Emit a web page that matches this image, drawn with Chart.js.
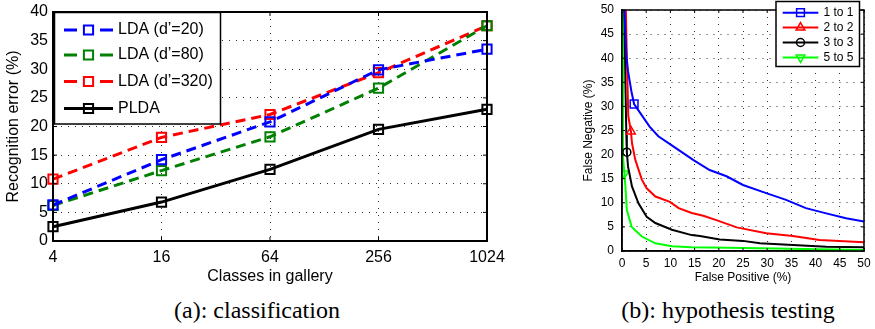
<!DOCTYPE html>
<html>
<head>
<meta charset="utf-8">
<script src="https://cdn.jsdelivr.net/npm/chart.js@4.4.0/dist/chart.umd.min.js"></script>
<style>
body { margin:0; width:875px; height:329px; background:#fff; position:relative; overflow:hidden; }
.box { position:absolute; top:0; }
.cap { position:absolute; top:298px; font-family:"Liberation Serif", serif; font-size:24px; line-height:24px; white-space:nowrap; transform:translateX(-50%); }
</style>
</head>
<body>
<div class="box" style="left:0"><canvas id="cls" width="520" height="290"></canvas></div>
<div class="box" style="left:560px"><canvas id="hyp" width="315" height="290"></canvas></div>
<div class="cap" style="left:257px">(a): classification</div>
<div class="cap" style="left:728px">(b): hypothesis testing</div>
<script>
// (a) recognition error vs gallery size
const galleryClasses = ['4', '16', '64', '256', '1024'];
const lda20 = [6.3, 14.2, 20.8, 29.9, 33.5];
const lda80 = [6.2, 12.3, 18.2, 26.7, 37.6];
const lda320 = [10.8, 18.1, 22.1, 29.4, 37.6];
const plda = [2.5, 6.8, 12.5, 19.5, 23.0];

// (b) false negative vs false positive (%)
const fp1 = [0.5, 0.9, 1.25, 1.6, 1.95, 2.5, 4.0, 5.7, 7.5, 10.6, 14.7, 18.1, 21.6, 25.0, 29.8, 33.9, 38.0, 42.2, 46.3, 50];
const fn1 = [50, 40.7, 37.3, 35.2, 33.1, 30.5, 28.3, 25.8, 23.8, 21.7, 18.9, 16.8, 15.5, 13.7, 12.0, 10.6, 8.9, 7.8, 6.8, 6.1];
const fp2 = [0.8, 1.0, 1.3, 1.85, 2.06, 2.75, 4.1, 5.1, 6.9, 9.9, 11.7, 14.4, 16.8, 19.5, 23.7, 29.8, 35.3, 40.8, 50];
const fn2 = [50, 40, 28, 24.8, 22.4, 18.9, 14.8, 13.0, 11.3, 10.2, 8.9, 7.9, 7.3, 6.4, 4.9, 3.7, 3.1, 2.3, 1.8];
const fp3 = [0.5, 0.7, 0.9, 1.0, 1.25, 2.06, 3.4, 5.1, 6.9, 10.3, 14.4, 16.1, 20.2, 25.0, 28.5, 35.3, 42.2, 50];
const fn3 = [50, 35, 24, 20.5, 17.5, 13.4, 9.9, 7.1, 5.8, 4.4, 3.3, 3.1, 2.4, 2.1, 1.6, 1.25, 0.9, 0.8];
const fp5 = [0.1, 0.2, 0.5, 0.7, 1.0, 2.0, 4.1, 6.9, 10.3, 14.4, 18.1, 28.5, 50];
const fn5 = [50, 19.5, 16.1, 13.4, 8.5, 5.0, 3.0, 1.6, 1.0, 0.8, 0.75, 0.55, 0.2];

Chart.defaults.color = '#000';
Chart.defaults.font.family = '"Liberation Sans", Arial, sans-serif';
Chart.defaults.animation = false;

function toPoints(xs, ys) {
    return xs.map((v, i) => ({ x: v, y: ys[i] }));
}

//matlab style frame, inward ticks and legend box
const boxPlugin = {
    id: 'box',
    afterDraw(chart, args, opts) {
        const { ctx, chartArea: a, scales: { x, y } } = chart;
        ctx.save();
        ctx.strokeStyle = '#000';
        ctx.lineWidth = 1;
        ctx.beginPath();
        x.ticks.forEach((t, i) => {
            const px = x.getPixelForTick(i);
            ctx.moveTo(px, a.bottom); ctx.lineTo(px, a.bottom - opts.tick);
            ctx.moveTo(px, a.top); ctx.lineTo(px, a.top + opts.tick);
        });
        y.ticks.forEach((t, i) => {
            const py = y.getPixelForTick(i);
            ctx.moveTo(a.left, py); ctx.lineTo(a.left + opts.tick, py);
            ctx.moveTo(a.right, py); ctx.lineTo(a.right - opts.tick, py);
        });
        ctx.stroke();
        ctx.lineWidth = opts.width;
        ctx.strokeRect(a.left, a.top, a.right - a.left, a.bottom - a.top);

        // legend
        const L = opts.legend;
        ctx.fillStyle = '#fff';
        ctx.fillRect(L.x1, L.y1, L.x2 - L.x1, L.y2 - L.y1);
        ctx.lineWidth = 1.5;
        ctx.strokeRect(L.x1, L.y1, L.x2 - L.x1, L.y2 - L.y1);
        ctx.font = L.font;
        ctx.textBaseline = 'middle';
        chart.data.datasets.forEach((ds, i) => {
            const ly = L.rows[i];
            ctx.strokeStyle = ds.borderColor;
            ctx.lineWidth = ds.borderWidth;
            ctx.beginPath();
            if (ds.borderDash && ds.borderDash.length) {
                ctx.moveTo(L.lineFrom, ly); ctx.lineTo(L.lineFrom + L.seg, ly);
                ctx.moveTo(L.lineTo - L.seg, ly); ctx.lineTo(L.lineTo, ly);
            } else {
                ctx.moveTo(L.lineFrom, ly); ctx.lineTo(L.lineTo, ly);
            }
            ctx.stroke();
            ctx.fillStyle = 'rgba(0,0,0,0)';
            ctx.lineWidth = ds.pointBorderWidth;
            Chart.helpers.drawPoint(ctx, {
                pointStyle: ds.pointStyle,
                radius: L.radius[i],
                rotation: ds.pointRotation || 0,
                borderWidth: ds.pointBorderWidth
            }, (L.lineFrom + L.lineTo) / 2, ly);
            ctx.fillStyle = '#000';
            ctx.fillText(ds.label, L.textX, ly);
        });
        ctx.restore();
    }
};

function ldaSet(label, data, color, dashed) {
    return {
        label: label,
        data: data,
        borderColor: color,
        borderWidth: 3,
        borderDash: dashed ? [10, 6] : [],
        pointStyle: 'rect',
        pointRadius: 6.5,
        pointBorderWidth: 2,
        pointBackgroundColor: 'rgba(0,0,0,0)',
        pointBorderColor: color,
        fill: false
    };
}

new Chart(document.getElementById('cls'), {
    type: 'line',
    data: {
        labels: galleryClasses,
        datasets: [
            ldaSet('LDA (d\u2019=20)', lda20, '#0000ff', true),
            ldaSet('LDA (d\u2019=80)', lda80, '#008000', true),
            ldaSet('LDA (d\u2019=320)', lda320, '#ff0000', true),
            ldaSet('PLDA', plda, '#000000', false)
        ]
    },
    options: {
        responsive: false,
        devicePixelRatio: 1,
        layout: { padding: { left: 0, right: 33, top: 12, bottom: 0 } },
        plugins: {
            legend: { display: false },
            tooltip: { enabled: false },
            box: {
                width: 2, tick: 4,
                legend: {
                    x1: 54.5, y1: 12.5, x2: 220.5, y2: 124,
                    rows: [30, 55, 81.5, 108.5],
                    lineFrom: 64, lineTo: 113, seg: 13, textX: 118,
                    radius: [6.5, 6.5, 6.5, 6.5],
                    font: '16px "Liberation Sans", Arial, sans-serif'
                }
            }
        },
        scales: {
            x: {
                type: 'category',
                offset: false,
                grid: { color: '#333', drawTicks: false },
                border: { display: true, color: '#000', width: 2, dash: [1, 6] },
                ticks: { padding: 7, font: { size: 16 }, maxRotation: 0 },
                title: { display: true, text: 'Classes in gallery', font: { size: 16 }, padding: { top: 0, bottom: 4 } },
                afterFit(s) { s.height = 49; s.paddingLeft = 0; s.paddingRight = 0; }
            },
            y: {
                min: 0, max: 40,
                ticks: { stepSize: 5, padding: 5, font: { size: 16 } },
                grid: { color: '#333', drawTicks: false },
                border: { display: true, color: '#000', width: 2, dash: [1, 6] },
                title: { display: true, text: 'Recognition error (%)', font: { size: 16 }, padding: { top: 4, bottom: 0 } },
                afterFit(s) { s.width = 53; s.paddingTop = 0; s.paddingBottom = 0; }
            }
        }
    },
    plugins: [boxPlugin]
});

// marker shown only once on each curve
const markAt = [5, 3, 3, 2];

function detSet(label, xs, ys, color, style, rotation, k, size) {
    return {
        label: label,
        data: toPoints(xs, ys),
        borderColor: color,
        borderWidth: 2,
        pointStyle: style,
        pointRotation: rotation,
        pointRadius: c => (c.dataIndex === markAt[k] ? size : 0),
        pointBorderWidth: 1.5,
        pointBackgroundColor: 'rgba(0,0,0,0)',
        pointBorderColor: color,
        fill: false
    };
}

new Chart(document.getElementById('hyp'), {
    type: 'line',
    data: {
        datasets: [
            detSet('1 to 1', fp1, fn1, '#0000ff', 'rect', 0, 0, 5.5),
            detSet('2 to 2', fp2, fn2, '#ff0000', 'triangle', 0, 1, 5),
            detSet('3 to 3', fp3, fn3, '#000000', 'circle', 0, 2, 4),
            detSet('5 to 5', fp5, fn5, '#00ff00', 'triangle', 180, 3, 5)
        ]
    },
    options: {
        responsive: false,
        devicePixelRatio: 1,
        layout: { padding: { left: 0, right: 11, top: 10, bottom: 0 } },
        plugins: {
            legend: { display: false },
            tooltip: { enabled: false },
            box: {
                width: 1.5, tick: 3,
                legend: {
                    x1: 216, y1: 1.5, x2: 299.5, y2: 66.5,
                    rows: [12.7, 27.6, 42.5, 57.4],
                    lineFrom: 222.7, lineTo: 258.3, seg: 0, textX: 263.5,
                    radius: [5.5, 5, 4, 5],
                    font: '12px "Liberation Sans", Arial, sans-serif'
                }
            }
        },
        scales: {
            x: {
                type: 'linear',
                min: 0, max: 50,
                ticks: { stepSize: 5, padding: 5, font: { size: 12 }, maxRotation: 0 },
                grid: { color: '#333', drawTicks: false },
                border: { display: true, color: '#000', width: 1.5, dash: [1, 6] },
                title: { display: true, text: 'False Positive (%)', font: { size: 12 }, padding: { top: 0, bottom: 5 } },
                afterFit(s) { s.height = 39; s.paddingLeft = 0; s.paddingRight = 0; }
            },
            y: {
                min: 0, max: 50,
                ticks: { stepSize: 5, padding: 8, font: { size: 12 } },
                grid: { color: '#333', drawTicks: false },
                border: { display: true, color: '#000', width: 1.5, dash: [1, 6] },
                title: { display: true, text: 'False Negative (%)', font: { size: 12 }, padding: { top: 21, bottom: 0 } },
                afterFit(s) { s.width = 62; s.paddingTop = 0; s.paddingBottom = 0; }
            }
        }
    },
    plugins: [boxPlugin]
});
</script>
</body>
</html>
